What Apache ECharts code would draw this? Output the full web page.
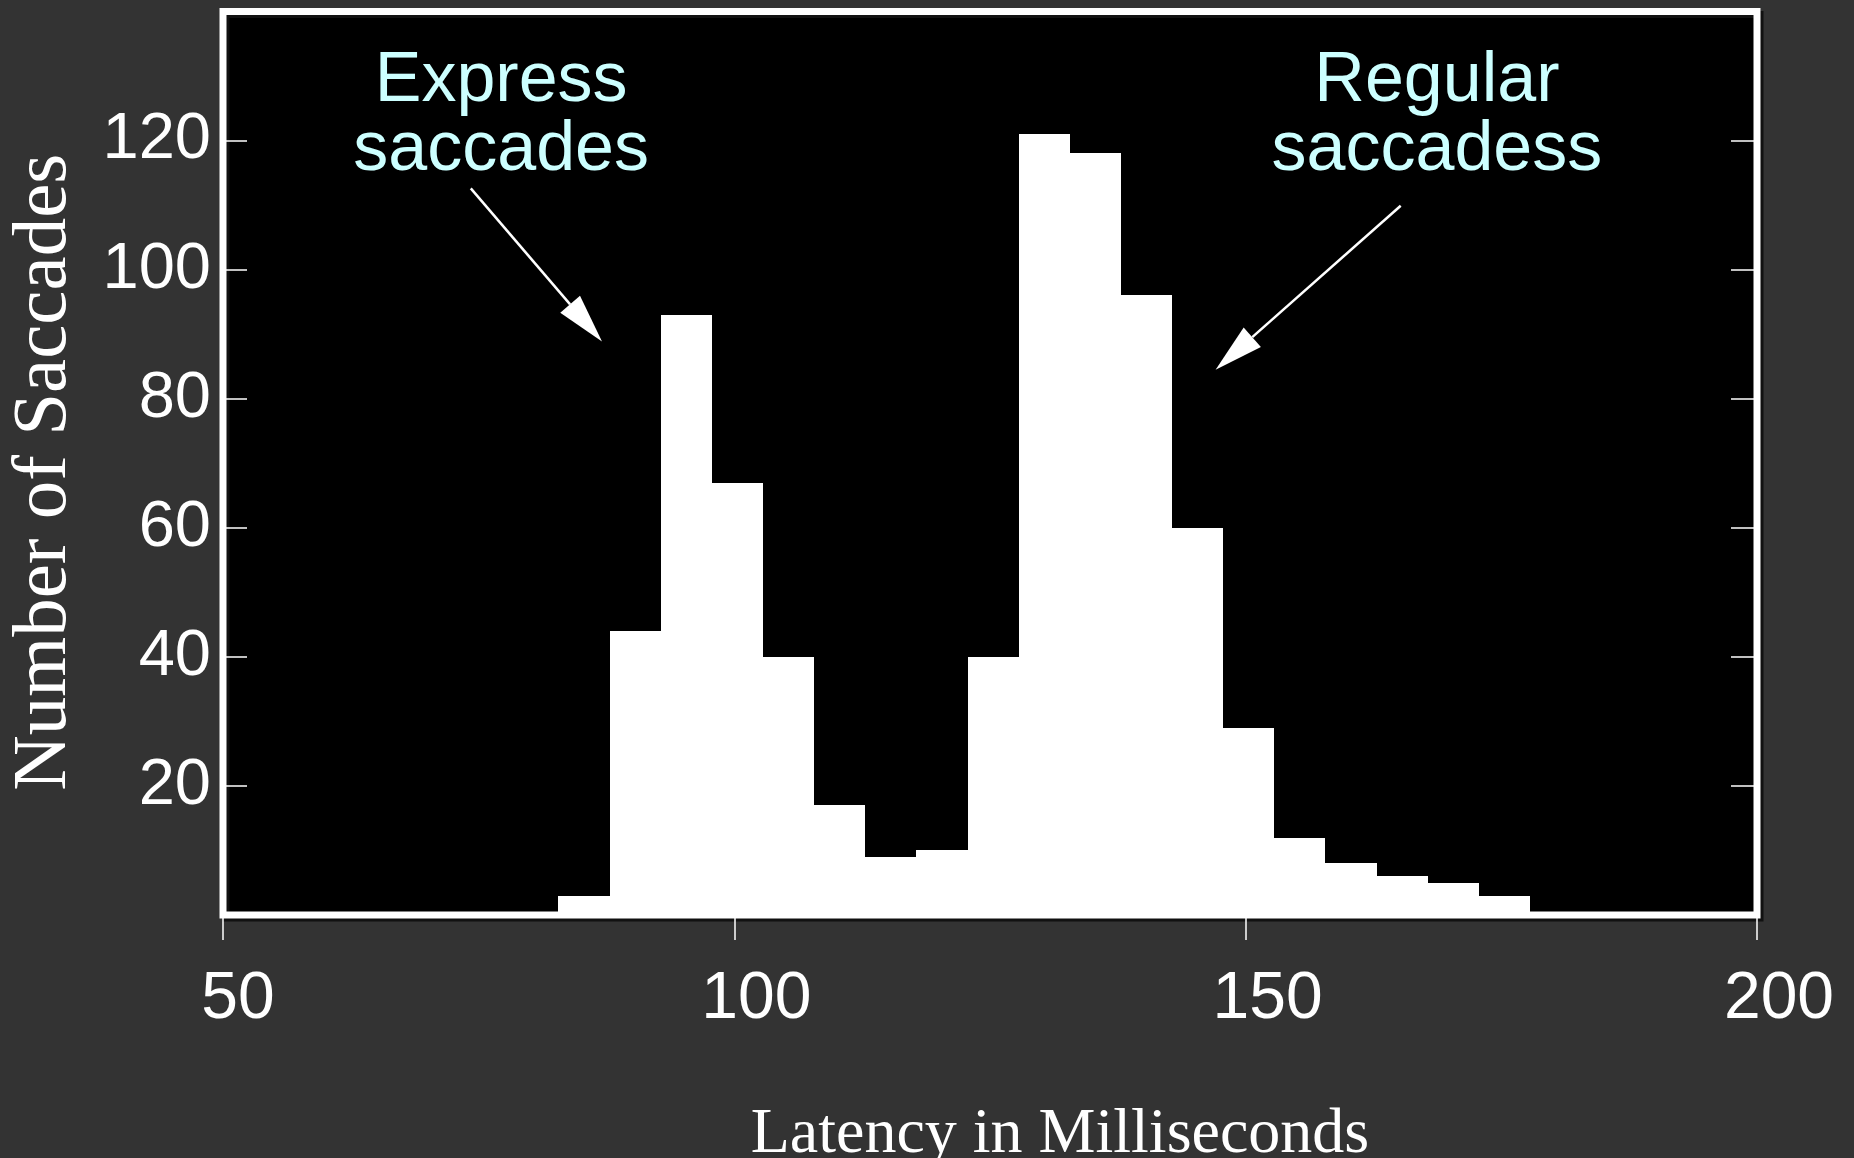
<!DOCTYPE html>
<html>
<head>
<meta charset="utf-8">
<script src="https://cdn.jsdelivr.net/npm/echarts@6/dist/echarts.min.js"></script>
<style>
  html, body { margin: 0; padding: 0; background: #333333; }
  #chart { width: 1854px; height: 1158px; }
</style>
</head>
<body>
<div id="chart"></div>
<script>
// Saccade latency histogram (5 ms bins)
const binCenters = [85.3, 90.3, 95.3, 100.3, 105.3, 110.3, 115.3, 120.3, 125.3, 130.3,
                    135.3, 140.3, 145.3, 150.3, 155.3, 160.3, 165.3, 170.3, 175.3];
const counts = [3, 44, 93, 67, 40, 17, 9, 10, 40, 121, 118, 96, 60, 29, 12, 8, 6, 5, 3];
const binWidth = 5;

const xTicks = [50, 100, 150, 200];
const yTicks = [20, 40, 60, 80, 100, 120];

// Callouts, in data units: label anchor (top centre), arrow tail and arrow tip
const calloutLabels = ['Express\nsaccades', 'Regular\nsaccadess'];
const calloutAnchors = [[77.2, 134.5], [168.7, 134.5]];
const arrowTails = [[74.23, 112.6], [165.16, 109.9]];
const arrowTips = [[87.06, 88.86], [147.06, 84.5]];

const chart = echarts.init(document.getElementById('chart'), null, { renderer: 'canvas' });

const white = '#ffffff';
const tickStyle = { color: white, width: 1.5 };
const xLabelFont = { fontSize: 66, color: white, fontFamily: 'Liberation Sans' };

chart.setOption({
  backgroundColor: '#333333',
  animation: false,
  grid: {
    left: 223, right: 97, top: 11.5, bottom: 243,
    containLabel: false,
    outerBoundsMode: 'none',
    show: true,
    backgroundColor: '#000000',
    borderColor: white,
    borderWidth: 7,
    shadowColor: '#111111',
    shadowOffsetX: 3,
    shadowOffsetY: 3,
    shadowBlur: 0
  },
  xAxis: [
    {
      type: 'value', position: 'bottom', offset: 10,
      min: xTicks[0], max: xTicks[xTicks.length - 1], interval: 50,
      axisLine: { show: false },
      axisTick: { show: true, inside: false, length: 12, lineStyle: tickStyle },
      axisLabel: {
        margin: 42,
        formatter: v => !xTicks.includes(v) ? '' : (v === xTicks[0] ? '{first|' + v + '}' : '{rest|' + v + '}'),
        rich: {
          first: Object.assign({ padding: [0, 0, 0, 30] }, xLabelFont),
          rest: Object.assign({ padding: [0, 0, 0, 44] }, xLabelFont)
        }
      },
      splitLine: { show: false },
      name: 'Latency in Milliseconds',
      nameLocation: 'middle',
      nameGap: 178,
      nameTextStyle: { fontFamily: 'Liberation Serif', fontSize: 64, color: white, padding: [0, 0, 0, 140] }
    },
    {
      type: 'value', position: 'top',
      min: xTicks[0], max: xTicks[xTicks.length - 1], interval: 50,
      axisLine: { show: false },
      axisTick: { show: true, inside: true, length: 25, lineStyle: tickStyle },
      axisLabel: { show: false },
      splitLine: { show: false }
    }
  ],
  yAxis: [
    {
      type: 'value', position: 'left',
      min: 0, max: 140, interval: 20,
      axisLine: { show: false },
      axisTick: { show: true, inside: true, length: 24, lineStyle: tickStyle },
      axisLabel: {
        margin: 12, fontSize: 65, color: white, fontFamily: 'Liberation Sans',
        formatter: v => yTicks.includes(v) ? String(v) : ''
      },
      splitLine: { show: false },
      name: 'Number of Saccades',
      nameLocation: 'middle',
      nameGap: 140,
      nameTextStyle: { fontFamily: 'Liberation Serif', fontSize: 77, color: white, padding: [0, 18, 0, 0] }
    },
    {
      type: 'value', position: 'right',
      min: 0, max: 140, interval: 20,
      axisLine: { show: false },
      axisTick: { show: true, inside: true, length: 26, lineStyle: tickStyle },
      axisLabel: { show: false },
      splitLine: { show: false }
    }
  ],
  series: [{
    type: 'custom',
    xAxisIndex: 0,
    yAxisIndex: 0,
    data: binCenters.map((c, i) => [c, counts[i]]),
    renderItem: function (params, api) {
      const c = api.value(0);
      const n = api.value(1);
      const topLeft = api.coord([c - binWidth / 2, n]);
      const bottomRight = api.coord([c + binWidth / 2, 0]);
      // snap to whole pixels so neighbouring bins join without seams
      const x0 = Math.round(topLeft[0]), x1 = Math.round(bottomRight[0]);
      const y0 = Math.round(topLeft[1]), y1 = Math.round(bottomRight[1]);
      return {
        type: 'rect',
        shape: { x: x0, y: y0, width: x1 - x0, height: y1 - y0 },
        style: { fill: white }
      };
    }
  }]
});

// Callout labels and arrows placed through the axes' own scales
const toPx = p => chart.convertToPixel({ xAxisIndex: 0, yAxisIndex: 0 }, p);
const graphics = [];
calloutLabels.forEach((label, i) => {
  const a = toPx(calloutAnchors[i]);
  graphics.push({
    type: 'text', x: a[0], y: a[1], z: 100,
    style: {
      text: label, fill: '#ccffff',
      font: '70px "Liberation Sans"',
      align: 'center', verticalAlign: 'top', lineHeight: 69
    }
  });
  const t = toPx(arrowTails[i]);
  const h = toPx(arrowTips[i]);
  const dx = h[0] - t[0], dy = h[1] - t[1];
  const len = Math.hypot(dx, dy);
  const ux = dx / len, uy = dy / len;
  const headLen = 49, headHalf = 13;
  const bx = h[0] - ux * headLen, by = h[1] - uy * headLen;
  graphics.push({
    type: 'line', z: 100,
    shape: { x1: t[0], y1: t[1], x2: bx, y2: by },
    style: { stroke: white, lineWidth: 2.5 }
  });
  graphics.push({
    type: 'polygon', z: 100,
    shape: { points: [[h[0], h[1]], [bx - uy * headHalf, by + ux * headHalf], [bx + uy * headHalf, by - ux * headHalf]] },
    style: { fill: white }
  });
});
chart.setOption({ graphic: graphics });
</script>
</body>
</html>
